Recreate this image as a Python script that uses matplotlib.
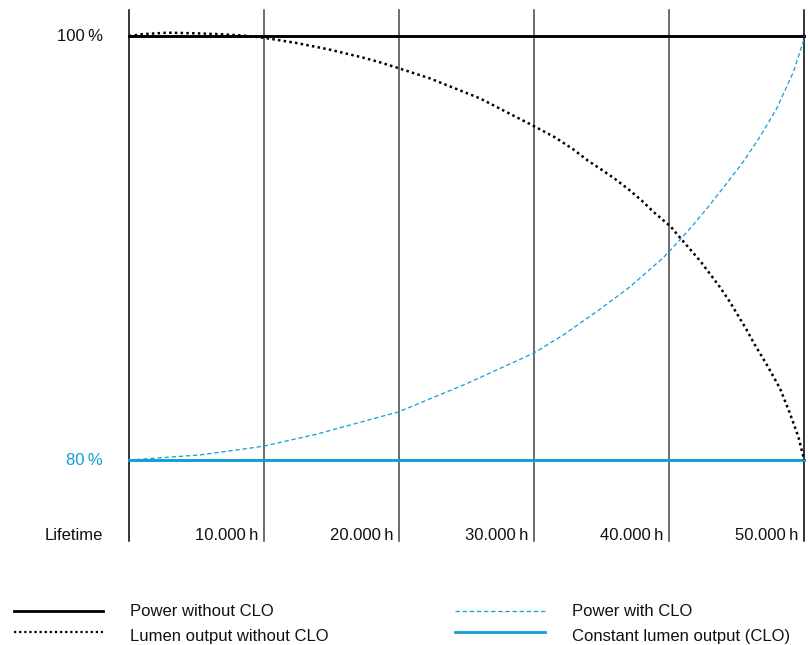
import matplotlib
matplotlib.use('Agg')
import numpy as np
from matplotlib import pyplot as plt

plt.rcParams['font.family'] = ['Liberation Sans', 'DejaVu Sans']

BLUE = '#0f9ddb'

# hours for every grid line / tick label
ticks = [0, 10000, 20000, 30000, 40000, 50000]
tick_labels = ['', '10.000\u2009h', '20.000\u2009h', '30.000\u2009h', '40.000\u2009h', '50.000\u2009h']

# lumen output without CLO (dotted black)
lumen_h = [0, 1000, 2840, 4940, 6670, 8390, 10000, 12350, 14800, 17300, 18600, 20000,
           22300, 26000, 30000, 31560, 32900, 34000, 35000, 36000, 37000, 38000,
           38840, 40150, 40600, 42300, 43780, 44520, 45760, 46300, 47240, 48220,
           48960, 49580, 49950, 50000]
lumen_pct = [100.0, 100.09, 100.16, 100.13, 100.09, 100.03, 99.92, 99.68, 99.37, 98.99,
             98.76, 98.48, 98.0, 97.06, 95.75, 95.22, 94.66, 94.12, 93.70, 93.26, 92.77,
             92.23, 91.71, 91.0, 90.65, 89.4, 88.15, 87.45, 86.13, 85.5, 84.5, 83.38,
             82.2, 81.1, 80.16, 80.0]

# power with CLO (dashed blue)
power_clo_h = [0, 5260, 8960, 10000, 13900, 20000, 25000, 30000, 32170, 34640, 37110,
               39580, 40690, 41800, 43040, 44270, 45500, 46740, 47980, 49210, 49950, 50000]
power_clo_pct = [80.0, 80.24, 80.56, 80.66, 81.22, 82.28, 83.6, 85.05, 85.9, 87.0, 88.17,
                 89.55, 90.3, 91.1, 92.05, 93.05, 94.07, 95.25, 96.59, 98.3, 99.75, 100.0]

# flat lines
power_h = [0, 50000]
power_pct = [100, 100]
clo_h = [0, 50000]
clo_pct = [80, 80]

legend_labels = ['Power without CLO', 'Lumen output without CLO',
                 'Power with CLO', 'Constant lumen output (CLO)']

fig = plt.figure(figsize=(8.08, 6.45), dpi=100)
ax = fig.add_axes([129 / 808, (645 - 541) / 645, 675 / 808, 531 / 645])
ax.set_xlim(0, 50000)
ax.set_ylim(76.18, 101.23)
ax.axis('off')

for t in ticks:
    c = 'black' if t in (0, 50000) else '#444444'
    ax.axvline(t, color=c, lw=1.1, clip_on=False, zorder=1)

ax.plot(power_h, power_pct, color='black', lw=2.1, clip_on=False, zorder=3)
ax.plot(clo_h, clo_pct, color=BLUE, lw=2.1, clip_on=False, zorder=3)
ax.plot(power_clo_h, power_clo_pct, color=BLUE, lw=0.9, ls=(0, (3.5, 2.2)), clip_on=False, zorder=4)
ax.plot(lumen_h, lumen_pct, color='black', lw=1.8, ls=(0, (1, 1.3)), clip_on=False, zorder=5)

fs = 12
# y labels
ax.text(-1950, 100, '100\u2009%', ha='right', va='center', fontsize=fs, color='#111111')
ax.text(-1950, 80, '80\u2009%', ha='right', va='center', fontsize=fs, color=BLUE)

# x labels on the bottom row
ax.text(-1950, 76.42, 'Lifetime', ha='right', va='center', fontsize=fs, color='#111111')
for t, lab in zip(ticks, tick_labels):
    if lab:
        ax.text(t - 400, 76.42, lab, ha='right', va='center', fontsize=fs, color='#111111')

# legend, drawn in pixel coordinates at the bottom
lg = fig.add_axes([0, 0, 1, 60 / 645])
lg.set_xlim(0, 808)
lg.set_ylim(60, 0)
lg.axis('off')
styles = [dict(color='black', lw=2.0),
          dict(color='black', lw=1.6, ls=(0, (1, 1.3))),
          dict(color=BLUE, lw=0.9, ls=(0, (3.5, 2.2))),
          dict(color=BLUE, lw=2.0)]
spots = [(14, 103, 130, 26, 26), (14, 103, 130, 47, 52), (455, 545, 572, 26, 26), (455, 545, 572, 47, 52)]
for (x0, x1, xt, y, yt), st, lab in zip(spots, styles, legend_labels):
    lg.plot([x0, x1], [y, y], **st)
    lg.text(xt, yt, lab, ha='left', va='center', fontsize=fs, color='#111111')

fig.savefig('out.png', dpi=100)
